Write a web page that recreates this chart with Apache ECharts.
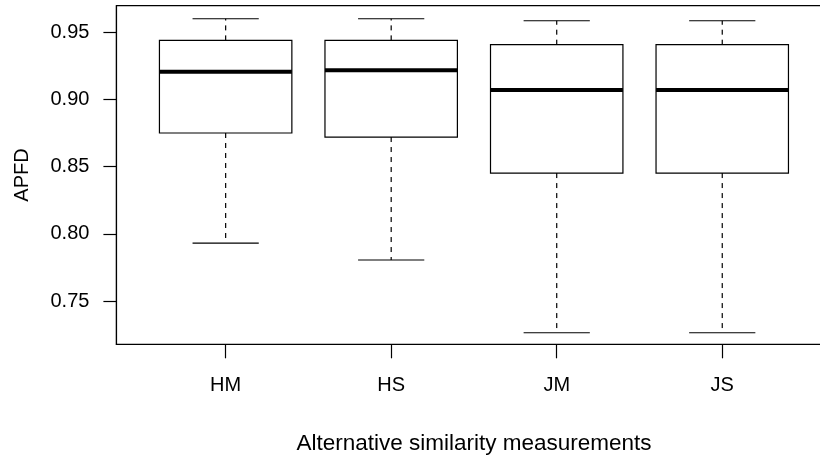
<!DOCTYPE html>
<html>
<head>
<meta charset="utf-8">
<script src="https://cdn.jsdelivr.net/npm/echarts@6/dist/echarts.min.js"></script>
<style>
  html, body { margin: 0; padding: 0; background: #fff; }
  #chart { width: 820px; height: 458px; }
</style>
</head>
<body>
<div id="chart"></div>
<script>
// box statistics
var categories = ['HM', 'HS', 'JM', 'JS'];
var lowerWhisker = [0.7932, 0.7806, 0.7265, 0.7265];
var q1 = [0.8751, 0.8721, 0.8453, 0.8453];
var median = [0.9207, 0.9217, 0.9071, 0.9071];
var q3 = [0.9440, 0.9440, 0.9408, 0.9408];
var upperWhisker = [0.9601, 0.9601, 0.9586, 0.9586];
var yTicks = [0.75, 0.80, 0.85, 0.90, 0.95];

var FONT = '"Liberation Sans", Arial, sans-serif';

var boxData = [];
for (var i = 0; i < categories.length; i++) {
  boxData.push([i + 1, lowerWhisker[i], q1[i], median[i], q3[i], upperWhisker[i]]);
}

function renderBox(params, api) {
  var x = api.value(0);
  var lo = api.coord([x, api.value(1)]);
  var b1 = api.coord([x, api.value(2)]);
  var md = api.coord([x, api.value(3)]);
  var b3 = api.coord([x, api.value(4)]);
  var hi = api.coord([x, api.value(5)]);
  var half = api.size([0.8, 0])[0] / 2;   // box width 0.8
  var cap = api.size([0.4, 0])[0] / 2;    // staple width 0.4
  var cx = lo[0];
  var solid = { stroke: '#000', lineWidth: 1.2 };
  var dashed = { stroke: '#000', lineWidth: 1.2, lineDash: [5, 5] };
  return {
    type: 'group',
    children: [
      { type: 'line', shape: { x1: cx, y1: b3[1], x2: cx, y2: hi[1] }, style: dashed },
      { type: 'line', shape: { x1: cx, y1: b1[1], x2: cx, y2: lo[1] }, style: dashed },
      { type: 'line', shape: { x1: cx - cap, y1: hi[1], x2: cx + cap, y2: hi[1] }, style: solid },
      { type: 'line', shape: { x1: cx - cap, y1: lo[1], x2: cx + cap, y2: lo[1] }, style: solid },
      { type: 'rect', shape: { x: cx - half, y: b3[1], width: half * 2, height: b1[1] - b3[1] },
        style: { fill: '#fff', stroke: '#000', lineWidth: 1.2 } },
      { type: 'line', shape: { x1: cx - half, y1: md[1], x2: cx + half, y2: md[1] },
        style: { stroke: '#000', lineWidth: 4 } }
    ]
  };
}

var myChart = echarts.init(document.getElementById('chart'));

var option = {
  animation: false,
  backgroundColor: '#fff',
  grid: {
    left: 116.4,
    right: -11.5,
    top: 5.7,
    bottom: 113.7,
    outerBoundsMode: 'none',
    containLabel: false,
    show: true,
    borderColor: '#000',
    borderWidth: 1.2,
    backgroundColor: 'transparent'
  },
  xAxis: {
    type: 'value',
    min: 0.34,
    max: 4.66,
    name: 'Alternative similarity measurements',
    nameLocation: 'middle',
    nameGap: 88,
    nameTextStyle: { fontSize: 22.5, color: '#000', fontFamily: FONT },
    axisLine: { show: true, lineStyle: { color: '#000', width: 1.2 } },
    splitLine: { show: false },
    axisTick: {
      show: true,
      length: 14,
      customValues: [1, 2, 3, 4],
      lineStyle: { color: '#000', width: 1.2 }
    },
    axisLabel: {
      customValues: [1, 2, 3, 4],
      margin: 31,
      fontSize: 20,
      color: '#000',
      fontFamily: FONT,
      formatter: function (v) { return categories[Math.round(v) - 1]; }
    }
  },
  yAxis: {
    type: 'value',
    min: 0.7179,
    max: 0.9698,
    name: 'APFD',
    nameLocation: 'middle',
    nameGap: 84,
    nameTextStyle: { fontSize: 20, color: '#000', fontFamily: FONT },
    axisLine: { show: true, lineStyle: { color: '#000', width: 1.2 } },
    splitLine: { show: false },
    axisTick: {
      show: true,
      length: 13,
      customValues: yTicks,
      lineStyle: { color: '#000', width: 1.2 }
    },
    axisLabel: {
      customValues: yTicks,
      margin: 27,
      fontSize: 20,
      color: '#000',
      fontFamily: FONT,
      formatter: function (v) { return v.toFixed(2); }
    }
  },
  series: [{
    type: 'custom',
    renderItem: renderBox,
    encode: { x: 0, y: [1, 2, 3, 4, 5] },
    data: boxData
  }]
};

myChart.setOption(option);
</script>
</body>
</html>
